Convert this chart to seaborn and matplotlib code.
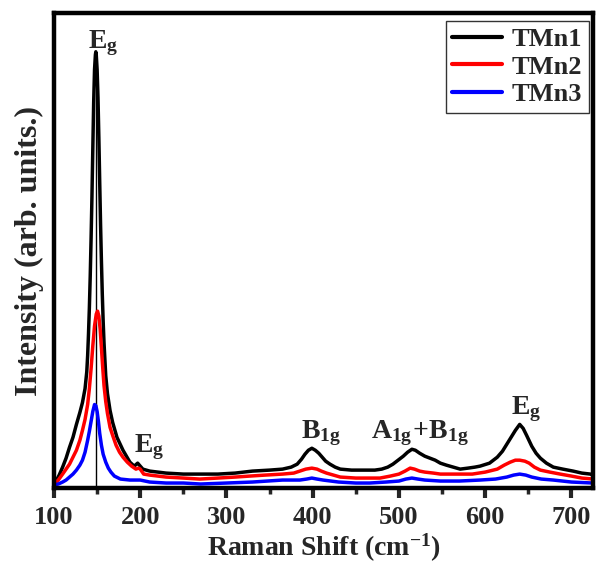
import numpy as np
import pandas as pd
import matplotlib
matplotlib.use("Agg")
import matplotlib.pyplot as plt
import seaborn as sns
from matplotlib.ticker import MultipleLocator

# ---- data ----
x_tmn1 = [100, 103, 106, 110, 114, 118, 122, 126, 130, 133, 136, 138, 139, 140, 141, 142, 143, 144, 145,
          146, 147, 148, 148.5, 149, 150, 151, 152, 153, 154, 155, 156, 157, 158, 160, 162, 165, 168,
          173, 180, 188, 193, 197, 200, 203, 211, 230, 250, 270, 290, 310, 330, 350, 365, 375, 382,
          387, 391, 395, 399, 403, 407, 411, 415, 420, 426, 432, 445, 460, 472, 480, 487, 493, 499,
          505, 510, 515, 519, 524, 530, 536, 542, 548, 555, 563, 571, 580, 588, 594, 605, 614, 620,
          625, 630, 635, 640, 644, 648, 654, 659, 664, 671, 679, 690, 702, 712, 722, 725]
y_tmn1 = [3, 5, 10, 18, 27, 38, 48, 61, 73, 83, 97, 114, 130, 152, 178, 210, 248, 290, 338,
          385, 418, 433, 436, 433, 418, 390, 350, 305, 262, 225, 192, 165, 143, 110, 92, 75, 63,
          48, 35, 23, 19, 22, 19, 16, 14, 12, 11, 11, 11, 12, 14, 15, 16, 18, 21,
          26, 31, 35, 37, 35, 32, 28, 24, 21, 18, 16, 15, 15, 15, 16, 18, 21, 25,
          29, 33, 36, 35, 32, 29, 27, 25, 22, 20, 18, 16, 17, 18, 19, 22, 28, 34,
          41, 48, 55, 61, 57, 50, 39, 32, 27, 22, 18, 16, 14, 12, 11, 10]

x_tmn2 = [100, 105, 110, 114, 118, 122, 126, 130, 133, 136, 139, 141, 143, 145, 147, 149, 150.5,
          152, 153.5, 155, 156.5, 158, 160, 162, 165, 168, 172, 176, 180, 185, 190, 195, 198, 200,
          204, 211, 230, 250, 269, 290, 310, 327, 345, 365, 378, 385, 392, 399, 405, 410, 416, 424,
          432, 450, 465, 478, 490, 500, 507, 513, 518, 524, 530, 540, 548, 565, 585, 600, 614, 622,
          629, 635, 640, 646, 651, 657, 664, 675, 687, 700, 712, 725]
y_tmn2 = [1, 5, 11, 16, 21, 28, 35, 45, 55, 66, 81, 97, 117, 140, 160, 172, 175,
          170, 157, 138, 118, 100, 84, 72, 58, 50, 40, 33, 28, 23, 19, 16, 17, 16,
          11, 10, 8, 7, 6, 7, 8, 9, 10, 11, 12, 14, 16, 17, 16, 14, 12, 10,
          8, 7, 7, 7, 9, 11, 14, 17, 16, 14, 13, 12, 11, 11, 11, 13, 16, 20,
          23, 25, 25, 24, 22, 18, 15, 13, 11, 9, 7, 6]

x_tmn3 = [100, 105, 110, 114, 118, 122, 126, 130, 133, 136, 139, 141, 143, 145, 147, 148.5, 150,
          151.5, 153, 155, 157, 160, 163, 166, 170, 177, 188, 200, 211, 230, 250, 270, 300, 330,
          365, 385, 393, 399, 405, 412, 430, 450, 466, 485, 500, 508, 515, 522, 530, 548, 570, 594,
          612, 625, 633, 640, 647, 654, 665, 679, 700, 725]
y_tmn3 = [0, 1, 3, 5, 8, 11, 15, 20, 25, 33, 45, 54, 64, 74, 81, 80, 74,
          64, 52, 40, 31, 23, 17, 13, 9, 6, 5, 5, 3, 2, 2, 1, 2, 3,
          5, 5, 6, 7, 6, 5, 3, 2, 2, 3, 4, 6, 7, 6, 5, 4, 4, 5,
          6, 8, 10, 11, 10, 8, 6, 5, 3, 2]

series_names = ["TMn1", "TMn2", "TMn3"]
series_colors = ["#000000", "#ff0000", "#0000ff"]

xticks = [100, 200, 300, 400, 500, 600, 700]

df = pd.concat([
    pd.DataFrame({"x": x_tmn1, "y": y_tmn1, "sample": "TMn1"}),
    pd.DataFrame({"x": x_tmn2, "y": y_tmn2, "sample": "TMn2"}),
    pd.DataFrame({"x": x_tmn3, "y": y_tmn3, "sample": "TMn3"}),
], ignore_index=True)

sns.set_style("white")
plt.rcParams["font.family"] = ["Liberation Serif", "DejaVu Serif"]
plt.rcParams["font.weight"] = "bold"
plt.rcParams["mathtext.fontset"] = "custom"
plt.rcParams["mathtext.rm"] = "Liberation Serif:bold"
plt.rcParams["mathtext.bf"] = "Liberation Serif:bold"
plt.rcParams["mathtext.it"] = "Liberation Serif:bold"

fig = plt.figure(figsize=(5.96, 5.80), dpi=100)
ax = fig.add_axes([54 / 596, 1 - 488 / 580, (593 - 54) / 596, (488 - 13) / 580])

sns.lineplot(data=df, x="x", y="y", hue="sample", palette=dict(zip(series_names, series_colors)),
             estimator=None, linewidth=2.5, ax=ax, legend=True)

ax.set_xlim(100, 725)
ax.set_ylim(-3, 475)

# vertical marker line at main Eg peak
ax.plot([148.5, 148.5], [-3, 436], color="black", lw=1.0, zorder=1)

ax.set_xticks(xticks)
ax.xaxis.set_minor_locator(MultipleLocator(50))
ax.set_yticks([])
ax.tick_params(axis="x", which="major", direction="out", length=7, width=3,
               labelsize=19, pad=6, bottom=True)
ax.tick_params(axis="x", which="minor", direction="out", length=4, width=2.5, bottom=True)
for lab in ax.get_xticklabels():
    lab.set_fontweight("bold")
for sp in ax.spines.values():
    sp.set_linewidth(3.2)
    sp.set_color("black")

ax.set_xlabel("Raman Shift (cm$^{\\mathregular{-1}}$)", fontsize=20, fontweight="bold", labelpad=2)
ax.set_ylabel("Intensity (arb. units.)", fontsize=23, fontweight="bold", labelpad=7)

# peak labels
fs = 20
ax.text(139, 440, r"$\mathregular{E_g}$", fontsize=fs, ha="left", va="baseline")
ax.text(193, 33, r"$\mathregular{E_g}$", fontsize=fs, ha="left", va="baseline")
ax.text(386, 47, r"$\mathregular{B_{1g}}$", fontsize=fs, ha="left", va="baseline")
ax.text(467, 47, r"$\mathregular{A_{1g}\!+\!B_{1g}}$", fontsize=fs, ha="left", va="baseline")
ax.text(630, 71, r"$\mathregular{E_g}$", fontsize=fs, ha="left", va="baseline")

leg = ax.legend(loc="upper right", bbox_to_anchor=(0.992, 0.983), fontsize=19, frameon=True,
                fancybox=False, handlelength=1.9, borderpad=0.25, labelspacing=0.15,
                handletextpad=0.35, borderaxespad=0.0)
leg.get_frame().set_edgecolor("black")
leg.get_frame().set_linewidth(1.0)
for line in leg.get_lines():
    line.set_linewidth(3)
for t in leg.get_texts():
    t.set_fontweight("bold")

fig.savefig("out.png", dpi=100)
